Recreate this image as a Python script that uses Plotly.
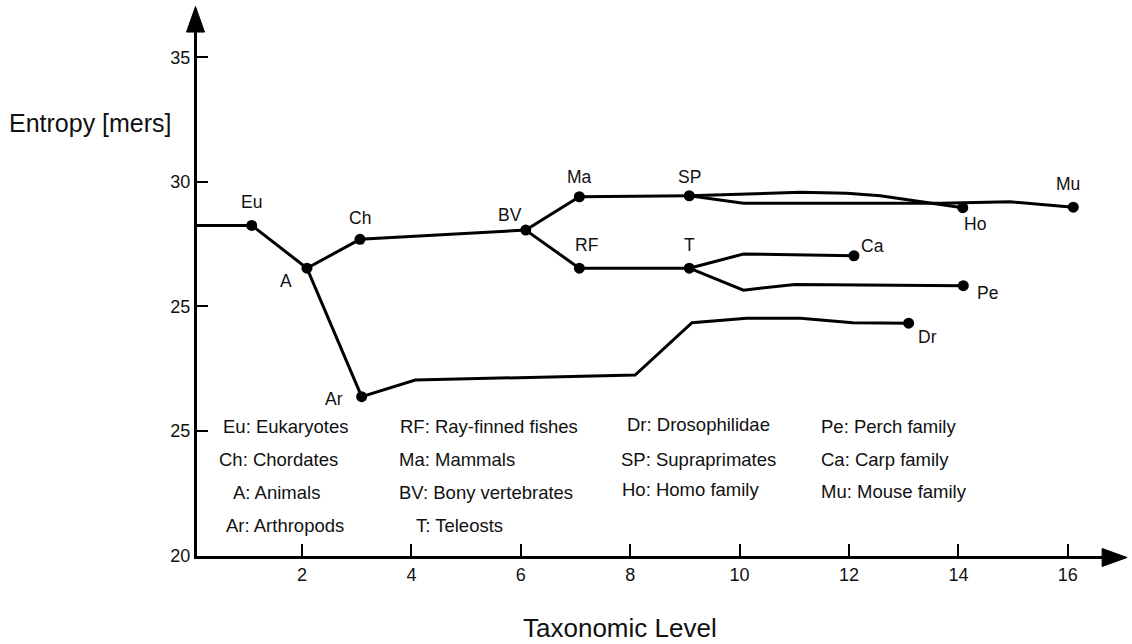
import plotly.graph_objects as go

# ---------------- data ----------------
node_names = ["Eu", "A", "Ch", "BV", "Ma", "SP", "RF", "T", "Ar", "Ca", "Pe", "Dr", "Ho", "Mu"]
node_x = [1.08, 2.09, 3.06, 6.09, 7.07, 9.08, 7.07, 9.08, 3.09, 12.09, 14.09, 13.09, 14.08, 16.10]
node_y = [28.25, 26.53, 27.69, 28.06, 29.40, 29.44, 26.53, 26.53, 21.37, 27.03, 25.83, 24.32, 28.96, 28.98]

trunk_x = [0.06, 1.08, 2.09, 3.06, 6.09, 7.07, 9.08]
trunk_y = [28.25, 28.25, 26.53, 27.69, 28.06, 29.40, 29.44]
fish_x = [6.09, 7.07, 9.08]
fish_y = [28.06, 26.53, 26.53]
arthro_x = [2.09, 3.09, 4.07, 8.09, 9.13, 10.13, 11.11, 12.07, 13.09]
arthro_y = [26.53, 21.37, 22.04, 22.24, 24.34, 24.52, 24.52, 24.34, 24.32]
carp_x = [9.08, 10.07, 12.09]
carp_y = [26.53, 27.10, 27.03]
perch_x = [9.08, 10.07, 11.01, 14.09]
perch_y = [26.53, 25.65, 25.88, 25.83]
homo_x = [9.08, 11.11, 11.96, 12.57, 14.08]
homo_y = [29.44, 29.58, 29.54, 29.44, 28.96]
mouse_x = [9.08, 10.07, 13.67, 14.94, 16.10]
mouse_y = [29.44, 29.14, 29.14, 29.20, 28.98]

x_tickvals = [2, 4, 6, 8, 10, 12, 14, 16]
y_tickvals = [15, 20, 25, 30, 35]
y_ticktext = ["20", "25", "25", "30", "35"]

legend_text = [
    "Eu: Eukaryotes", "Ch: Chordates", "A: Animals", "Ar: Arthropods",
    "RF: Ray-finned fishes", "Ma: Mammals", "BV: Bony vertebrates", "T: Teleosts",
    "Dr: Drosophilidae", "SP: Supraprimates", "Ho: Homo family",
    "Pe: Perch family", "Ca: Carp family", "Mu: Mouse family",
]
legend_x = [0.516, 0.442, 0.704, 0.576,
            3.76, 3.74, 3.74, 4.04,
            7.91, 7.80, 7.82,
            11.46, 11.46, 11.46]
legend_y = [20.17, 18.83, 17.51, 16.18,
            20.17, 18.83, 17.51, 16.18,
            20.27, 18.83, 17.65,
            20.17, 18.83, 17.55]

# label offsets (pixels) relative to node dot
label_dx = {"Eu": 0, "A": -21, "Ch": 0, "BV": -16, "Ma": 0, "SP": 0, "RF": 7, "T": 0,
            "Ar": -28, "Ca": 19, "Pe": 24, "Dr": 19, "Ho": 12, "Mu": -5}
label_dy = {"Eu": 23, "A": -13, "Ch": 21, "BV": 15, "Ma": 20, "SP": 19, "RF": 23, "T": 23,
            "Ar": -2, "Ca": 10, "Pe": -7, "Dr": -14, "Ho": -16, "Mu": 23}

# ---------------- layout geometry ----------------
W, H = 1132, 644
X_PX_PER_UNIT = 54.7
X0_PX = 192.5
Y_PX_PER_UNIT = 24.9
Y35_PX = 57.3
x_range = [0.08, 16.68]
y_range = [14.97, 36.5]
L_px = X0_PX + x_range[0] * X_PX_PER_UNIT
R_px = X0_PX + x_range[1] * X_PX_PER_UNIT
B_px = Y35_PX + (35 - y_range[0]) * Y_PX_PER_UNIT
T_px = Y35_PX + (35 - y_range[1]) * Y_PX_PER_UNIT


def px2paper(px, py):
    return (px - L_px) / (R_px - L_px), (B_px - py) / (B_px - T_px)


FONT = "Liberation Sans, Arial, Helvetica, sans-serif"
TXT = "#111111"
fig = go.Figure()

line_style = dict(color="black", width=3)
for xs, ys in [(trunk_x, trunk_y), (fish_x, fish_y), (arthro_x, arthro_y),
               (carp_x, carp_y), (perch_x, perch_y), (homo_x, homo_y), (mouse_x, mouse_y)]:
    fig.add_trace(go.Scatter(x=xs, y=ys, mode="lines", line=line_style,
                             hoverinfo="skip", showlegend=False, cliponaxis=False))

fig.add_trace(go.Scatter(x=node_x, y=node_y, mode="markers",
                         marker=dict(color="black", size=11),
                         text=node_names, showlegend=False, cliponaxis=False))

annotations = []
for n, x, y in zip(node_names, node_x, node_y):
    annotations.append(dict(x=x, y=y, xref="x", yref="y", text=n, showarrow=False,
                            xshift=label_dx[n], yshift=label_dy[n],
                            font=dict(family=FONT, size=17.5, color=TXT)))
for t, x, y in zip(legend_text, legend_x, legend_y):
    annotations.append(dict(x=x, y=y, xref="x", yref="y", text=t, showarrow=False,
                            xanchor="left", yanchor="middle",
                            font=dict(family=FONT, size=18.5, color=TXT)))

# axis titles
ex, ey = px2paper(7, 123)
annotations.append(dict(x=ex, y=ey, xref="paper", yref="paper", text="Entropy [mers]",
                        showarrow=False, xanchor="left", yanchor="middle",
                        font=dict(family=FONT, size=25, color=TXT)))
tx, ty = px2paper(620, 628)
annotations.append(dict(x=tx, y=ty, xref="paper", yref="paper", text="Taxonomic Level",
                        showarrow=False, xanchor="center", yanchor="middle",
                        font=dict(family=FONT, size=26, color=TXT)))

# arrowheads
ax_x = L_px - 1.5
ax_y = B_px + 1.5
a1 = px2paper(ax_x, 6.5)
a2 = px2paper(ax_x - 9, 32)
a3 = px2paper(ax_x + 9, 32)
b1 = px2paper(1127, ax_y)
b2 = px2paper(1102, ax_y - 9)
b3 = px2paper(1102, ax_y + 9)
shapes = [
    dict(type="path", xref="paper", yref="paper",
         path=f"M {a1[0]} {a1[1]} L {a2[0]} {a2[1]} L {a3[0]} {a3[1]} Z",
         fillcolor="black", line=dict(color="black", width=1)),
    dict(type="path", xref="paper", yref="paper",
         path=f"M {b1[0]} {b1[1]} L {b2[0]} {b2[1]} L {b3[0]} {b3[1]} Z",
         fillcolor="black", line=dict(color="black", width=1)),
    # extend x axis line to arrowhead
    dict(type="line", xref="paper", yref="paper",
         x0=1.0, x1=px2paper(1104, 0)[0], y0=px2paper(0, ax_y)[1], y1=px2paper(0, ax_y)[1],
         line=dict(color="black", width=3)),
]

fig.update_layout(
    width=W, height=H, autosize=False,
    margin=dict(l=L_px, r=W - R_px, t=T_px, b=H - B_px, pad=0),
    plot_bgcolor="white", paper_bgcolor="white",
    showlegend=False,
    annotations=annotations,
    shapes=shapes,
    xaxis=dict(range=x_range, tickvals=x_tickvals, ticks="inside", ticklen=12,
               tickwidth=2, tickcolor="black", showline=True, linewidth=3,
               linecolor="black", showgrid=False, zeroline=False,
               tickfont=dict(family=FONT, size=18, color=TXT)),
    yaxis=dict(range=y_range, tickvals=y_tickvals, ticktext=y_ticktext,
               ticks="inside", ticklen=11, tickwidth=2, tickcolor="black",
               showline=True, linewidth=3, linecolor="black",
               showgrid=False, zeroline=False,
               tickfont=dict(family=FONT, size=18, color=TXT)),
)

fig.write_html("out.html")
